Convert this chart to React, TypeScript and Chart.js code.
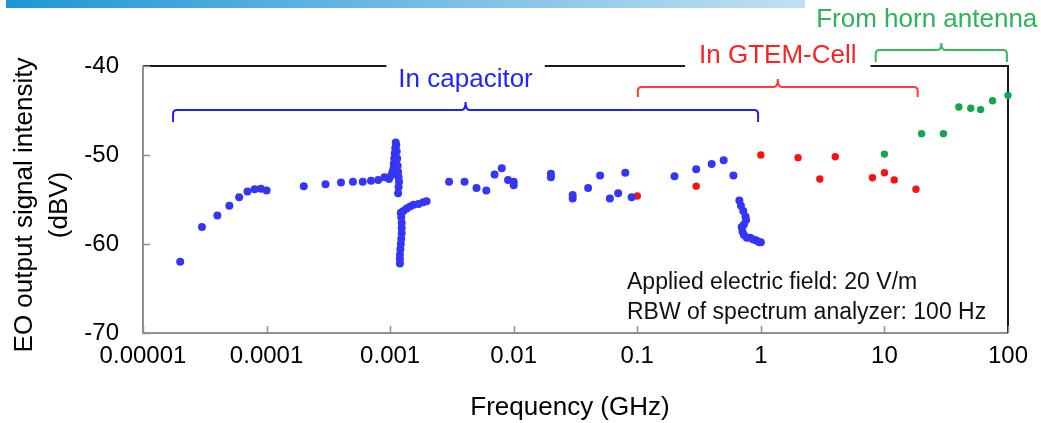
import React, { useEffect, useRef } from "react";
import { Chart, registerables } from "chart.js";
Chart.register(...registerables);

// ---- data (frequency in GHz, EO output in dBV) ----
const capFreq = [
  0.00002, 0.00003, 0.00004, 0.00005, 0.00006, 0.00007, 0.00008, 0.00009, 0.0001,
  0.0002, 0.0003, 0.0004, 0.0005, 0.0006, 0.0007, 0.0008, 0.0009,
  0.00098, 0.00102, 0.00104, 0.00106, 0.00107, 0.00108, 0.00109, 0.0011, 0.00111,
  0.00112, 0.00113, 0.00114, 0.00115, 0.00116, 0.00117, 0.00118, 0.00117, 0.00116,
  0.0012, 0.0012, 0.0012, 0.00121, 0.00122, 0.00123, 0.00124, 0.00124, 0.00124,
  0.00123, 0.00122, 0.00128, 0.00136, 0.00145, 0.00155, 0.0017, 0.00185, 0.00197,
  0.003, 0.004, 0.005, 0.006, 0.007, 0.008, 0.009, 0.01, 0.01, 0.02, 0.02, 0.03, 0.03,
  0.04, 0.05, 0.06, 0.07, 0.08, 0.09, 0.2, 0.3, 0.4, 0.5, 0.6,
  0.67, 0.69, 0.72, 0.75, 0.76, 0.73, 0.7, 0.71, 0.73, 0.77, 0.82, 0.87, 0.92, 0.97, 1.0,
];
const capLevel = [
  -62.0, -58.1, -56.8, -55.7, -54.75, -54.1, -53.85, -53.8, -54.0,
  -53.5, -53.3, -53.1, -53.0, -53.0, -52.9, -52.8, -52.5,
  -52.7, -52.3, -52.0, -51.6, -51.0, -50.4, -49.8, -49.2, -48.6,
  -48.9, -49.6, -50.4, -51.2, -51.9, -52.5, -53.0, -53.6, -54.3,
  -62.2, -61.7, -61.2, -60.6, -60.0, -59.4, -58.8, -58.2, -57.6,
  -57.0, -56.5, -56.3, -56.0, -55.8, -55.6, -55.5, -55.3, -55.2,
  -53.0, -53.0, -53.7, -54.0, -52.2, -51.5, -52.8, -53.0, -53.4, -52.1, -52.5, -54.5, -54.9,
  -53.7, -52.3, -54.9, -54.3, -52.0, -54.75, -52.4, -51.6, -51.0, -50.6, -52.3,
  -55.1, -55.7, -56.3, -56.9, -57.3, -57.8, -58.1, -58.6, -59.0, -59.3, -59.3, -59.5, -59.6, -59.8, -59.8,
];
const gtemFreq = [0.1, 0.3, 1, 2, 3, 4, 8, 10, 12, 18];
const gtemLevel = [-54.6, -53.5, -50.0, -50.3, -52.7, -50.2, -52.55, -52.0, -52.8, -53.85];
const hornFreq = [10, 20, 30, 40, 50, 60, 75, 100];
const hornLevel = [-49.9, -47.6, -47.6, -44.6, -44.75, -44.9, -43.9, -43.3];

const xTickValues = [0.00001, 0.0001, 0.001, 0.01, 0.1, 1, 10, 100];
const xTickLabels = ["0.00001", "0.0001", "0.001", "0.01", "0.1", "1", "10", "100"];
const yTickValues = [-70, -60, -50, -40];
const yTickLabels = ["-70", "-60", "-50", "-40"];

const FONT = '"Liberation Sans", Arial, sans-serif';

export default function App() {
  const ref = useRef<HTMLCanvasElement>(null);

  useEffect(() => {
    document.body.style.margin = "0";
    const canvas = ref.current!;
    const pts = (xs: number[], ys: number[]) => xs.map((x, i) => ({ x, y: ys[i] }));

    const bracket = (ctx: CanvasRenderingContext2D, x1: number, x2: number, y: number, drop: number, peak: number, color: string) => {
      const xc = (x1 + x2) / 2;
      const r = 4;
      ctx.strokeStyle = color;
      ctx.lineWidth = 2;
      ctx.beginPath();
      ctx.moveTo(x1, y + drop);
      ctx.lineTo(x1, y + r);
      ctx.quadraticCurveTo(x1, y, x1 + r, y);
      ctx.lineTo(xc - 4, y);
      ctx.quadraticCurveTo(xc, y, xc, y - peak);
      ctx.quadraticCurveTo(xc, y, xc + 4, y);
      ctx.lineTo(x2 - r, y);
      ctx.quadraticCurveTo(x2, y, x2, y + r);
      ctx.lineTo(x2, y + drop);
      ctx.stroke();
    };

    const deco = {
      id: "deco",
      beforeDatasetsDraw(chart: any) {
        const ctx: CanvasRenderingContext2D = chart.ctx;
        const { left, right, top, bottom } = chart.chartArea;
        const xs = chart.scales.x;
        const ys = chart.scales.y;
        ctx.save();
        // header bar
        const g = ctx.createLinearGradient(6, 0, 805, 0);
        g.addColorStop(0, "#1E96D6");
        g.addColorStop(1, "#C2E0F3");
        ctx.fillStyle = g;
        ctx.fillRect(6, 0, 799, 8);
        // frame
        ctx.lineWidth = 2;
        ctx.strokeStyle = "#909090";
        ctx.beginPath();
        ctx.moveTo(left, top);
        ctx.lineTo(left, bottom);
        ctx.lineTo(right, bottom);
        ctx.stroke();
        ctx.strokeStyle = "#1a1a1a";
        ctx.beginPath();
        ctx.moveTo(left, top);
        ctx.lineTo(right, top);
        ctx.lineTo(right, bottom);
        ctx.stroke();
        // inner tick marks
        ctx.strokeStyle = "#909090";
        ctx.lineWidth = 1.5;
        ctx.beginPath();
        xTickValues.forEach((v) => {
          const px = Math.round(xs.getPixelForValue(v)) + 0.5;
          ctx.moveTo(px, bottom);
          ctx.lineTo(px, bottom - 7);
        });
        yTickValues.forEach((v) => {
          const py = Math.round(ys.getPixelForValue(v)) + 0.5;
          ctx.moveTo(left, py);
          ctx.lineTo(left + 7, py);
        });
        ctx.stroke();
        ctx.restore();
      },
      afterDraw(chart: any) {
        const ctx: CanvasRenderingContext2D = chart.ctx;
        const { top } = chart.chartArea;
        const xs = chart.scales.x;
        const ys = chart.scales.y;
        const X = (v: number) => xs.getPixelForValue(v);
        const Y = (v: number) => ys.getPixelForValue(v);
        ctx.save();
        ctx.textAlign = "center";
        ctx.textBaseline = "middle";
        ctx.font = `26px ${FONT}`;

        // gaps in the top frame behind the labels
        const gap = (cx: number, text: string, pad: number) => {
          const w = ctx.measureText(text).width + pad * 2;
          ctx.fillStyle = "#ffffff";
          ctx.fillRect(cx - w / 2, top - 3, w, 6);
        };

        // In capacitor
        const bx1 = X(1.75e-5), bx2 = X(0.95);
        const bc = (bx1 + bx2) / 2;
        gap(bc, "In capacitor", 12);
        bracket(ctx, bx1, bx2, Y(-44.95), 12, 8, "#1f1fff");
        ctx.fillStyle = "#2323ff";
        ctx.fillText("In capacitor", bc, Y(-41.57));

        // In GTEM-Cell
        const rx1 = X(0.101), rx2 = X(18.6);
        const rc = (rx1 + rx2) / 2;
        gap(rc, "In GTEM-Cell", 14);
        bracket(ctx, rx1, rx2, Y(-42.36), 10, 8, "#ff3b3b");
        ctx.fillStyle = "#ff1f1f";
        ctx.fillText("In GTEM-Cell", rc, Y(-38.84));

        // From horn antenna
        bracket(ctx, X(8.5), X(98), Y(-38.2), 12, 7, "#33bb5e");
        ctx.fillStyle = "#2bb45a";
        ctx.fillText("From horn antenna", X(22), Y(-34.83));

        // notes
        ctx.fillStyle = "#111111";
        ctx.textAlign = "left";
        ctx.font = `23px ${FONT}`;
        ctx.fillText("Applied electric field: 20 V/m", 627, 283);
        ctx.fillText("RBW of spectrum analyzer: 100 Hz", 627, 313);

        // axis titles
        ctx.fillStyle = "#000000";
        ctx.textAlign = "center";
        ctx.font = `26px ${FONT}`;
        ctx.fillText("Frequency (GHz)", 570, 408);
        ctx.translate(25, 205);
        ctx.rotate(-Math.PI / 2);
        ctx.fillText("EO output signal intensity", 0, 0);
        ctx.fillText("(dBV)", 0, 35);
        ctx.restore();
      },
    };

    const chart = new Chart(canvas, {
      type: "scatter",
      data: {
        datasets: [
          {
            label: "In capacitor",
            data: pts(capFreq, capLevel),
            backgroundColor: "#3535f5",
            borderWidth: 0,
            pointRadius: 4,
            clip: false,
          },
          {
            label: "In GTEM-Cell",
            data: pts(gtemFreq, gtemLevel),
            backgroundColor: "#ff1010",
            borderWidth: 0,
            pointRadius: 3.7,
            clip: false,
          },
          {
            label: "From horn antenna",
            data: pts(hornFreq, hornLevel),
            backgroundColor: "#12a64c",
            borderWidth: 0,
            pointRadius: 3.7,
            clip: false,
          },
        ],
      },
      options: {
        responsive: false,
        animation: false,
        layout: { padding: { top: 66, right: 33, left: 0, bottom: 0 } },
        plugins: { legend: { display: false }, tooltip: { enabled: false } },
        scales: {
          x: {
            type: "logarithmic",
            min: 0.00001,
            max: 100,
            grid: { display: false, drawTicks: false },
            border: { display: false },
            ticks: {
              color: "#000",
              font: { family: FONT, size: 24 },
              padding: 9,
              maxRotation: 0,
              autoSkip: false,
              callback: (_v: any, i: number) => xTickLabels[i],
            },
            afterBuildTicks: (s: any) => {
              s.ticks = xTickValues.map((v) => ({ value: v }));
            },
            afterFit: (s: any) => {
              s.height = 90;
            },
          },
          y: {
            type: "linear",
            min: -70,
            max: -40,
            grid: { display: false, drawTicks: false },
            border: { display: false },
            ticks: {
              color: "#000",
              font: { family: FONT, size: 24 },
              padding: 24,
              callback: (_v: any, i: number) => yTickLabels[i],
            },
            afterBuildTicks: (s: any) => {
              s.ticks = yTickValues.map((v) => ({ value: v }));
            },
            afterFit: (s: any) => {
              s.width = 143;
            },
          },
        },
      },
      plugins: [deco],
    } as any);

    return () => chart.destroy();
  }, []);

  return <canvas ref={ref} width={1041} height={423} style={{ display: "block" }} />;
}
